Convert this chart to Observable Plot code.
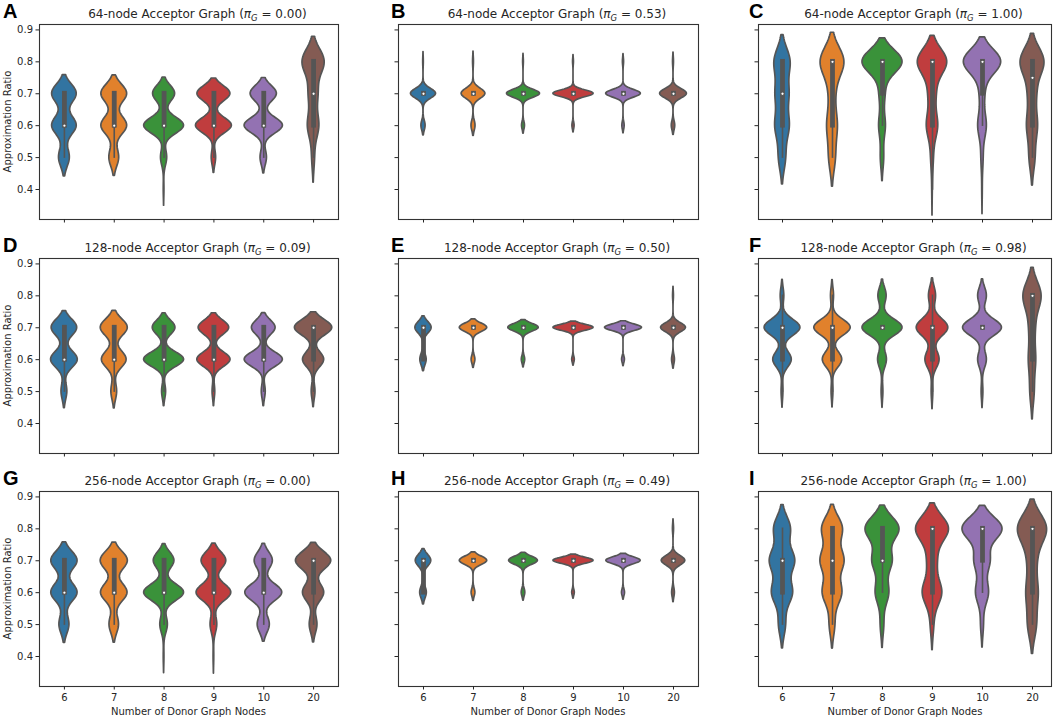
<!DOCTYPE html>
<html><head><meta charset="utf-8">
<script src="https://cdn.jsdelivr.net/npm/d3@7"></script>
<script src="https://cdn.jsdelivr.net/npm/@observablehq/plot@0.6"></script>
<style>
body{margin:0;background:#fff;}
#wrap{position:relative;width:1059px;height:718px;overflow:hidden;background:#fff;font-family:"DejaVu Sans",sans-serif;}
#wrap > svg, #wrap > figure{position:absolute;margin:0;}
</style></head><body><div id="wrap"></div>
<script>
// ---------- data ----------
const levels = [0.4, 0.5, 0.6, 0.7, 0.8];            // discrete approximation-ratio values
const donorNodes = ["6", "7", "8", "9", "10", "20"];   // x categories
const violinColors = ["#3274a1", "#e1812c", "#3a923a", "#c03d3e", "#9372b2", "#845b53"];
const panelLetters = ["A", "B", "C", "D", "E", "F", "G", "H", "I"];
const acceptorSizes = [64, 64, 64, 128, 128, 128, 256, 256, 256];
const piG = ["0.00", "0.53", "1.00", "0.09", "0.50", "0.98", "0.00", "0.49", "1.00"];
const yTicks = [0.4, 0.5, 0.6, 0.7, 0.8, 0.9];

// counts per donor (rows) at each level in `levels` (columns)
const countsA = [[0,18,41,41,0],[0,16,42,42,0],[1,9,58,32,0],[0,6,49,45,0],[0,9,54,37,0],[0,6,25,20,49]];
const countsB = [[0,0,14,84,2],[0,0,14,83,3],[0,0,8,90,2],[0,0,5,93,2],[0,0,6,91,3],[0,0,11,86,3]];
const countsC = [[0,14,28,26,32],[0,14,22,12,52],[0,6,12,10,72],[1,5,22,14,58],[1,4,16,9,70],[0,12,22,16,50]];
const countsD = [[0,10,46,44,0],[0,10,43,47,0],[0,6,60,34,0],[0,4,50,46,0],[0,6,58,36,0],[0,6,34,60,0]];
const countsE = [[0,0,28,72,0],[0,0,12,88,0],[0,0,10,90,0],[0,0,6,94,0],[0,0,7,93,0],[0,0,10,87,3]];
const countsF = [[0,3,31,60,6],[0,3,32,60,5],[0,3,15,68,14],[0,3,26,58,13],[0,3,15,67,15],[0,12,20,16,52]];
const countsG = [[0,16,42,42,0],[0,15,42,43,0],[1,11,58,30,0],[1,10,52,37,0],[0,18,55,27,0],[0,12,33,55,0]];
const countsH = [[0,0,30,70,0],[0,0,12,88,0],[0,0,11,89,0],[0,0,6,94,0],[0,0,8,92,0],[0,0,10,86,4]];
const countsI = [[0,10,30,36,24],[0,8,28,34,30],[0,5,19,28,48],[0,5,30,14,51],[0,4,18,22,56],[0,15,20,14,51]];
const panelCounts = [countsA, countsB, countsC, countsD, countsE, countsF, countsG, countsH, countsI];

// ---------- computation (seaborn-like violin: gaussian KDE, scott bw, cut=2, scale="area") ----------
function violinStats(counts) {
  const samples = [];
  counts.forEach((c, k) => { for (let j = 0; j < c; j++) samples.push(levels[k]); });
  samples.sort(d3.ascending);
  const n = samples.length;
  const sd = d3.deviation(samples);
  const bw = Math.pow(n, -0.2) * sd;
  const lo = samples[0] - 2 * bw, hi = samples[n - 1] + 2 * bw;
  const grid = d3.range(100).map(i => lo + (hi - lo) * i / 99);
  const dens = grid.map(y => d3.sum(counts, (c, k) => c * Math.exp(-0.5 * ((y - levels[k]) / bw) ** 2)) / (n * bw * Math.sqrt(2 * Math.PI)));
  const q1 = d3.quantileSorted(samples, 0.25), med = d3.quantileSorted(samples, 0.5), q3 = d3.quantileSorted(samples, 0.75);
  const lim = 1.5 * (q3 - q1);
  const h1 = d3.min(samples.filter(v => v >= q1 - lim - 1e-9));
  const h2 = d3.max(samples.filter(v => v <= q3 + lim + 1e-9));
  return {grid, dens, q1, med, q3, h1, h2};
}

const gray = "#555555";
const colLeft = [39, 398, 758], colWidth = [299, 300, 293];
const colDomain = [[-0.5, 5.5], [-0.5, 5.5], [-0.48, 5.38]];
const rowTop = [24, 258, 491], frameH = 195;
const yDomain = [0.306, 0.917];
const mL = 40, mR = 2, mT = 2, mB = 24;

const wrap = document.getElementById("wrap");

panelCounts.forEach((counts, p) => {
  const row = Math.floor(p / 3), col = p % 3;
  const vs = counts.map(violinStats);
  const maxD = d3.max(vs, v => d3.max(v.dens));
  const marks = [];
  vs.forEach((v, i) => {
    const pts = v.grid.map((y, j) => ({y, x1: i - 0.4 * v.dens[j] / maxD, x2: i + 0.4 * v.dens[j] / maxD}));
    marks.push(Plot.areaX(pts, {y: "y", x1: "x1", x2: "x2", fill: violinColors[i], stroke: gray, strokeWidth: 1.7, strokeLinejoin: "round"}));
  });
  const st = vs.map((v, i) => ({i, ...v}));
  marks.push(Plot.ruleX(st, {x: "i", y1: "h1", y2: "h2", stroke: gray, strokeWidth: 1.6, strokeLinecap: "square"}));
  marks.push(Plot.ruleX(st, {x: "i", y1: "q1", y2: "q3", stroke: gray, strokeWidth: 4.8, strokeLinecap: "square"}));
  marks.push(Plot.dot(st, {x: "i", y: "med", r: 1.7, fill: "white", stroke: gray, strokeWidth: 1.1}));
  marks.push(Plot.frame({stroke: "#333", strokeWidth: 1.1}));
  marks.push(Plot.axisY({ticks: yTicks, tickSize: 3.5, tickPadding: 3, label: null,
    tickFormat: col === 0 ? d3.format(".1f") : () => ""}));
  marks.push(Plot.axisX({ticks: d3.range(6), tickSize: 3.5, tickPadding: 3.5, label: null,
    tickFormat: row === 2 ? (i => donorNodes[i]) : () => ""}));

  const chart = Plot.plot({
    width: colWidth[col] + mL + mR,
    height: frameH + mT + mB,
    marginLeft: mL, marginRight: mR, marginTop: mT, marginBottom: mB,
    x: {domain: colDomain[col], label: null, axis: null},
    y: {domain: yDomain, label: null, axis: null},
    style: {fontFamily: "DejaVu Sans", fontSize: "10px", color: "#262626", background: "transparent", overflow: "visible"},
    marks
  });
  chart.style.left = (colLeft[col] - mL) + "px";
  chart.style.top = (rowTop[row] - mT) + "px";
  wrap.appendChild(chart);
});

// ---------- text overlay ----------
const svg = d3.select(wrap).append("svg")
  .attr("width", 1059).attr("height", 718)
  .style("left", "0px").style("top", "0px").style("pointer-events", "none")
  .attr("font-family", "DejaVu Sans").attr("fill", "#262626");

const letterX = [3, 391, 749];
const titleShift = 9;
panelLetters.forEach((L, p) => {
  const row = Math.floor(p / 3), col = p % 3;
  svg.append("text").attr("x", letterX[col]).attr("y", rowTop[row] - 6)
    .attr("font-family", "Liberation Sans, Arial, sans-serif").attr("font-weight", "bold")
    .attr("font-size", 20).attr("fill", "#000").text(L);
  const t = svg.append("text")
    .attr("x", colLeft[col] + colWidth[col] / 2 + titleShift).attr("y", rowTop[row] - 6)
    .attr("text-anchor", "middle").attr("font-size", 12);
  t.append("tspan").text(`${acceptorSizes[p]}-node Acceptor Graph (`);
  t.append("tspan").attr("font-style", "italic").text("π");
  t.append("tspan").attr("font-style", "italic").attr("font-size", 8.5).attr("dy", 2.5).text("G");
  t.append("tspan").attr("dy", -2.5).text(` = ${piG[p]})`);
});
rowTop.forEach(top => {
  const cy = top + frameH / 2;
  svg.append("text").attr("transform", `translate(11,${cy}) rotate(-90)`)
    .attr("text-anchor", "middle").attr("font-size", 10).text("Approximation Ratio");
});
colLeft.forEach((l, c) => {
  svg.append("text").attr("x", l + (c === 2 ? 147 : colWidth[c] / 2)).attr("y", 714.5)
    .attr("text-anchor", "middle").attr("font-size", 10).text("Number of Donor Graph Nodes");
});
</script></body></html>
